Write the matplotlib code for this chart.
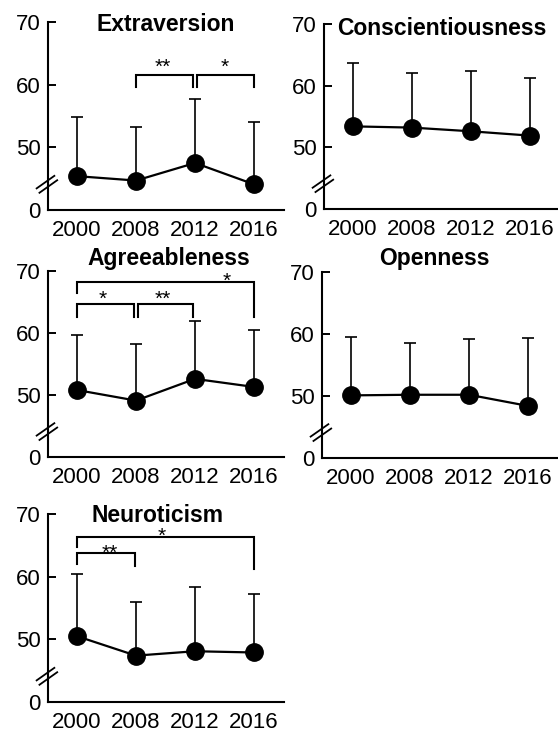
import numpy as np
import matplotlib
matplotlib.use("Agg")
from matplotlib import pyplot as plt

plt.rcParams['font.family'] = ['Liberation Sans', 'DejaVu Sans']

# 調査年
years = ['2000', '2008', '2012', '2016']

# 平均値と標準偏差 (上側のみ表示)
extraversion_mean = [45.4, 44.7, 47.5, 44.1]
extraversion_sd = [9.5, 8.5, 10.2, 9.9]
conscientiousness_mean = [53.4, 53.2, 52.6, 51.9]
conscientiousness_sd = [10.2, 8.8, 9.7, 9.3]
agreeableness_mean = [50.8, 49.1, 52.6, 51.3]
agreeableness_sd = [8.9, 9.1, 9.4, 9.2]
openness_mean = [50.1, 50.2, 50.2, 48.4]
openness_sd = [9.4, 8.4, 9.0, 10.9]
neuroticism_mean = [50.5, 47.4, 48.1, 47.9]
neuroticism_sd = [9.9, 8.6, 10.2, 9.4]

# y軸: 表示上の 40 を "0" として軸を省略
ytick_pos = [40, 50, 60, 70]
ytick_labels = ['0', '50', '60', '70']

# 有意差のブラケット: (x1, x2, 上端, 左脚の下端, 右脚の下端, 記号, 記号x, 記号y)
extraversion_sig = [(1.0, 1.97, 61.6, 59.6, 59.6, '**', 1.46, 61.9),
                    (2.03, 3.0, 61.6, 59.6, 59.6, '*', 2.51, 61.9)]
agreeableness_sig = [(0.0, 0.97, 64.6, 62.6, 62.6, '*', 0.44, 64.6),
                     (1.03, 1.97, 64.6, 62.6, 62.6, '**', 1.46, 64.6),
                     (0.0, 3.0, 68.2, 66.5, 62.6, '*', 2.54, 67.4)]
neuroticism_sig = [(0.0, 0.98, 63.8, 62.0, 61.7, '**', 0.56, 62.8),
                   (0.0, 3.0, 66.4, 64.8, 61.2, '*', 1.44, 65.5)]

FIG_W, FIG_H = 558, 736


def make_axes(fig, x0_px, bottom_px, height_px):
    # x=0 の位置(px)から axes を配置 (1 年 = 59px)
    left = x0_px - 29.5
    return fig.add_axes([left / FIG_W, 1 - bottom_px / FIG_H, 236 / FIG_W, height_px / FIG_H])


def draw_panel(ax, title, mean, sd, title_x, title_y, sig=()):
    x = np.arange(len(years))
    mean = np.array(mean)
    sd = np.array(sd)

    ax.errorbar(x, mean, yerr=[np.zeros_like(sd), sd], fmt='none', ecolor='black',
                elinewidth=1.2, capsize=4, capthick=1.2, zorder=2)
    ax.plot(x, mean, '-o', color='black', lw=1.6, markersize=12.5, zorder=3)

    ax.set_xlim(-0.5, 3.5)
    ax.set_ylim(40, 70)
    ax.set_xticks(x)
    ax.set_xticklabels(years)
    ax.set_yticks(ytick_pos)
    ax.set_yticklabels(ytick_labels)
    ax.tick_params(axis='y', direction='in', length=6, width=1.4, labelsize=16, pad=5)
    ax.tick_params(axis='x', length=0, labelsize=16, pad=7)

    for s in ['top', 'right']:
        ax.spines[s].set_visible(False)
    for s in ['left', 'bottom']:
        ax.spines[s].set_linewidth(1.5)

    # 軸の省略記号
    tr = ax.get_yaxis_transform()
    for dx, dy in [(-0.006, 0.35), (0.006, -0.35)]:
        ax.plot([-0.04 + dx, 0.035 + dx], [43.1 + dy, 45.1 + dy], color='black',
                lw=1.3, transform=tr, clip_on=False, zorder=4)

    ax.text(title_x, title_y, title, ha='center', va='baseline', fontsize=16.5,
            fontweight='bold', clip_on=False)

    for x1, x2, top, l_bot, r_bot, mark, mx, my in sig:
        ax.plot([x1, x1, x2, x2], [l_bot, top, top, r_bot], color='black', lw=1.5,
                solid_joinstyle='miter', clip_on=False)
        ax.text(mx, my, mark, ha='center', va='baseline', fontsize=15, clip_on=False)


def main():
    fig = plt.figure(figsize=(FIG_W / 100, FIG_H / 100), dpi=100)

    ax1 = make_axes(fig, 77, 210, 188)
    draw_panel(ax1, 'Extraversion', extraversion_mean, extraversion_sd, 1.5, 68.6, extraversion_sig)

    ax2 = make_axes(fig, 353, 209, 185)
    draw_panel(ax2, 'Conscientiousness', conscientiousness_mean, conscientiousness_sd, 1.5, 68.2)

    ax3 = make_axes(fig, 77, 457, 186)
    draw_panel(ax3, 'Agreeableness', agreeableness_mean, agreeableness_sd, 1.56, 71.0, agreeableness_sig)

    ax4 = make_axes(fig, 351, 458, 186)
    draw_panel(ax4, 'Openness', openness_mean, openness_sd, 1.42, 71.1)

    ax5 = make_axes(fig, 77, 702, 188)
    draw_panel(ax5, 'Neuroticism', neuroticism_mean, neuroticism_sd, 1.36, 68.8, neuroticism_sig)

    plt.savefig("out.png", dpi=100)


if __name__ == "__main__":
    main()
